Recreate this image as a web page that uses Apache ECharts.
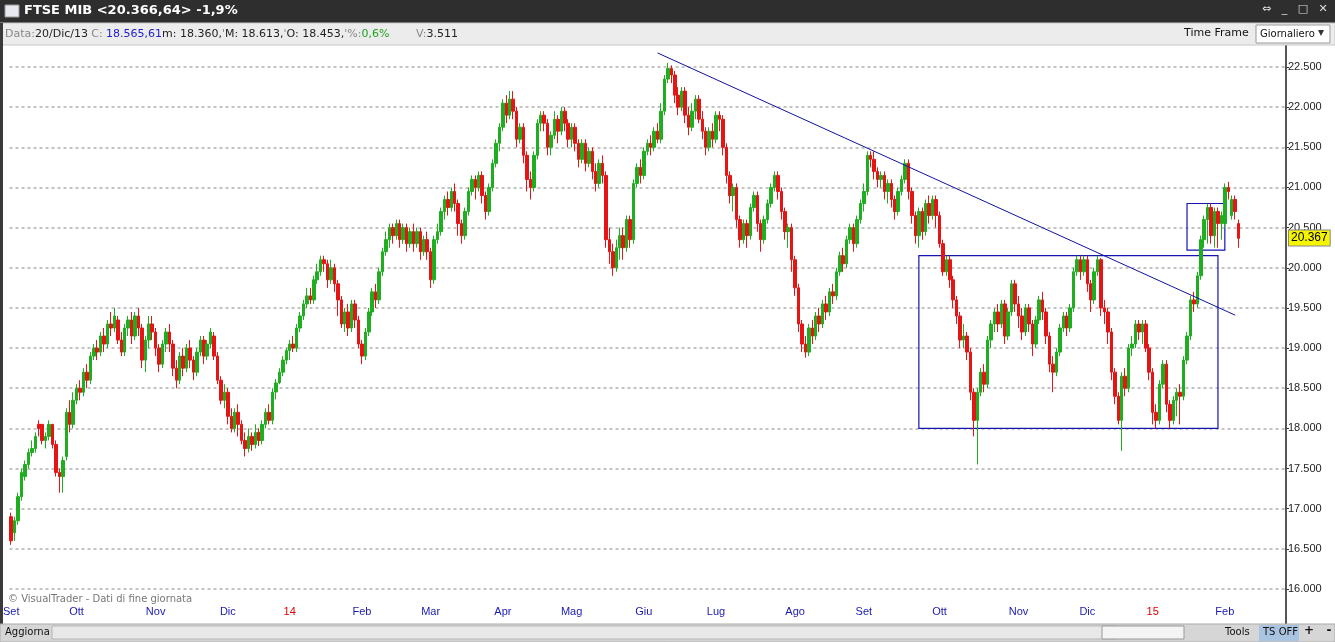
<!DOCTYPE html>
<html><head><meta charset="utf-8">
<script src="https://cdn.jsdelivr.net/npm/echarts@6/dist/echarts.min.js"></script>
<style>html,body{margin:0;padding:0;background:#fff}#c{width:1335px;height:642px}</style>
</head><body><div id="c"></div>
<script>
const monthLabels=['Set','Ott','Nov','Dic','14','Feb','Mar','Apr','Mag','Giu','Lug','Ago','Set','Ott','Nov','Dic','15','Feb'];
const monthDays=[19,23,21,18,21,20,21,20,21,21,23,20,22,23,20,19,21,5];
const yearLabels=['14','15'];
// [open, close, low, high] in thousands of points
const ohlc=[
[16.90,16.60,16.55,16.95],[16.70,16.85,16.60,16.90],[16.85,17.15,16.80,17.20],[17.15,17.45,17.10,17.50],[17.40,17.55,17.35,17.60],[17.55,17.70,17.50,17.75],[17.70,17.75,17.65,17.85],[17.75,17.90,17.70,17.95],[18.05,18.00,17.90,18.10],[18.05,17.85,17.80,18.05],[17.85,17.90,17.75,17.95],[17.90,18.05,17.85,18.10],[18.05,17.80,17.75,18.05],[17.80,17.45,17.40,17.85],[17.45,17.40,17.20,17.50],[17.40,17.60,17.20,17.65],[17.65,18.20,17.60,18.25],[18.20,18.05,17.95,18.35],[18.05,18.35,18.00,18.45],
[18.35,18.50,18.30,18.55],[18.50,18.45,18.35,18.60],[18.45,18.70,18.40,18.75],[18.70,18.60,18.50,18.80],[18.60,18.90,18.55,18.95],[18.90,19.00,18.85,19.05],[19.00,18.95,18.85,19.10],[18.95,19.15,18.90,19.20],[19.15,19.05,18.95,19.25],[19.05,19.30,19.00,19.35],[19.30,19.25,19.15,19.45],[19.25,19.40,19.20,19.50],[19.35,19.10,19.05,19.40],[19.10,18.95,18.90,19.20],[18.95,19.25,18.90,19.30],[19.25,19.35,19.15,19.40],[19.35,19.15,19.05,19.45],[19.15,19.40,19.10,19.45],[19.40,19.25,19.15,19.50],[19.25,18.85,18.75,19.30],[18.85,19.10,18.70,19.15],[19.10,19.30,19.00,19.40],[19.30,19.20,19.10,19.40],
[19.20,19.00,18.90,19.25],[19.00,18.80,18.70,19.05],[18.80,19.05,18.75,19.10],[19.05,19.20,18.95,19.25],[19.20,19.05,18.95,19.30],[19.05,18.75,18.65,19.10],[18.75,18.60,18.50,18.85],[18.60,18.90,18.55,18.95],[18.90,18.75,18.65,19.00],[18.75,19.00,18.70,19.05],[19.00,18.85,18.75,19.10],[18.85,18.70,18.60,18.90],[18.70,18.95,18.65,19.00],[18.95,19.10,18.90,19.15],[19.10,18.90,18.80,19.15],[18.90,19.05,18.85,19.10],[19.05,19.20,19.00,19.25],[19.15,18.90,18.85,19.20],[18.90,18.60,18.55,18.95],[18.60,18.35,18.30,18.65],[18.35,18.45,18.25,18.55],
[18.45,18.15,18.05,18.50],[18.15,18.00,17.95,18.25],[18.00,18.20,17.95,18.25],[18.20,18.05,17.90,18.30],[18.05,17.85,17.80,18.10],[17.85,17.75,17.65,17.95],[17.75,17.90,17.70,18.00],[17.90,17.80,17.72,17.95],[17.80,17.95,17.75,18.05],[17.95,17.85,17.78,18.00],[17.85,18.05,17.80,18.10],[18.05,18.20,18.00,18.25],[18.20,18.10,18.05,18.30],[18.10,18.45,18.05,18.50],[18.453,18.566,18.36,18.613],[18.57,18.70,18.55,18.75],[18.70,18.85,18.65,18.90],[18.85,18.97,18.80,19.00],
[18.97,19.05,18.85,19.10],[19.05,19.00,18.95,19.15],[19.00,19.25,18.95,19.30],[19.25,19.40,19.20,19.45],[19.40,19.55,19.35,19.60],[19.55,19.65,19.50,19.75],[19.65,19.60,19.55,19.75],[19.60,19.85,19.55,19.90],[19.85,19.95,19.80,20.05],[19.95,20.10,19.90,20.15],[20.10,20.05,19.95,20.15],[20.05,19.85,19.75,20.10],[19.85,20.00,19.80,20.10],[20.00,19.80,19.70,20.05],[19.80,19.60,19.40,19.85],[19.60,19.30,19.25,19.65],[19.30,19.45,19.20,19.50],[19.45,19.25,19.15,19.55],[19.25,19.55,19.20,19.60],[19.55,19.35,19.25,19.60],[19.35,19.05,19.00,19.40],
[19.05,18.90,18.80,19.10],[18.90,19.20,18.85,19.25],[19.20,19.45,19.15,19.50],[19.45,19.70,19.40,19.75],[19.70,19.60,19.50,19.80],[19.60,19.95,19.55,20.00],[19.95,20.20,19.90,20.25],[20.20,20.35,20.15,20.45],[20.35,20.50,20.25,20.55],[20.50,20.40,20.30,20.55],[20.40,20.55,20.35,20.60],[20.55,20.35,20.25,20.60],[20.35,20.50,20.30,20.55],[20.50,20.30,20.20,20.55],[20.30,20.45,20.25,20.50],[20.45,20.30,20.20,20.55],[20.30,20.45,20.25,20.50],[20.45,20.20,20.10,20.50],[20.20,20.35,20.15,20.40],[20.35,20.20,20.10,20.45],
[20.20,19.85,19.75,20.25],[19.85,20.35,19.80,20.40],[20.35,20.45,20.30,20.55],[20.45,20.70,20.40,20.75],[20.70,20.85,20.60,20.90],[20.85,20.75,20.65,20.95],[20.75,20.95,20.70,21.00],[20.95,20.80,20.70,21.05],[20.80,20.55,20.40,20.85],[20.55,20.40,20.30,20.60],[20.40,20.70,20.35,20.75],[20.70,20.95,20.65,21.00],[20.95,21.10,20.90,21.15],[21.10,21.00,20.85,21.15],[21.00,21.15,20.95,21.20],[21.15,20.90,20.80,21.20],[20.90,20.70,20.60,20.95],[20.70,21.00,20.65,21.05],[21.00,21.30,20.95,21.35],[21.30,21.55,21.25,21.60],[21.55,21.75,21.45,21.80],
[21.75,22.05,21.70,22.10],[22.05,21.90,21.80,22.15],[21.90,22.10,21.85,22.20],[22.10,21.95,21.85,22.20],[21.95,21.60,21.50,22.00],[21.60,21.75,21.55,21.80],[21.75,21.40,21.30,21.80],[21.40,21.10,20.95,21.45],[21.10,21.00,20.85,21.20],[21.00,21.40,20.95,21.45],[21.40,21.80,21.35,21.85],[21.80,21.90,21.70,21.95],[21.90,21.80,21.70,21.95],[21.80,21.50,21.40,21.85],[21.50,21.65,21.40,21.70],[21.65,21.85,21.60,21.95],[21.85,21.70,21.55,21.90],[21.70,21.95,21.65,22.00],[21.95,21.80,21.70,22.00],[21.80,21.60,21.50,21.85],
[21.60,21.75,21.50,21.80],[21.75,21.55,21.45,21.80],[21.55,21.35,21.25,21.60],[21.35,21.55,21.30,21.60],[21.55,21.30,21.20,21.60],[21.30,21.45,21.25,21.50],[21.45,21.20,21.10,21.50],[21.20,21.05,20.95,21.30],[21.05,21.30,21.00,21.35],[21.30,21.15,21.05,21.40],[21.15,20.35,20.25,21.20],[20.35,20.20,20.05,20.50],[20.20,20.00,19.90,20.30],[20.00,20.25,19.95,20.35],[20.25,20.40,20.10,20.50],[20.40,20.25,20.10,20.50],[20.25,20.60,20.20,20.65],[20.60,20.35,20.25,20.65],[20.35,21.05,20.30,21.10],[21.05,21.25,21.00,21.30],[21.25,21.15,21.05,21.35],
[21.15,21.45,21.10,21.50],[21.45,21.55,21.40,21.60],[21.55,21.50,21.40,21.65],[21.50,21.70,21.45,21.75],[21.70,21.60,21.55,21.80],[21.60,21.95,21.55,22.05],[21.95,22.35,21.90,22.40],[22.35,22.48,22.30,22.55],[22.48,22.40,22.30,22.52],[22.40,22.15,22.05,22.45],[22.15,22.00,21.90,22.25],[22.00,22.20,21.95,22.25],[22.20,21.90,21.80,22.25],[21.90,21.75,21.65,22.00],[21.75,21.95,21.70,22.05],[21.95,22.10,21.85,22.15],[22.10,21.85,21.80,22.15],[21.85,21.70,21.60,21.95],[21.70,21.50,21.40,21.75],[21.50,21.70,21.45,21.75],[21.70,21.60,21.50,21.80],
[21.60,21.90,21.55,21.95],[21.90,21.85,21.70,21.95],[21.85,21.50,21.40,21.90],[21.50,21.15,21.05,21.55],[21.15,20.90,20.80,21.20],[20.90,21.00,20.70,21.05],[21.00,20.60,20.50,21.05],[20.60,20.35,20.25,20.65],[20.35,20.55,20.30,20.60],[20.55,20.40,20.25,20.60],[20.40,20.75,20.35,20.80],[20.75,20.90,20.70,20.95],[20.90,20.55,20.45,20.95],[20.55,20.35,20.20,20.60],[20.35,20.60,20.30,20.65],[20.60,20.80,20.55,20.85],[20.80,21.00,20.75,21.05],[21.00,21.15,20.95,21.20],[21.15,20.95,20.85,21.20],[20.95,20.70,20.60,21.00],[20.70,20.45,20.35,20.75],[20.45,20.50,20.25,20.55],[20.50,20.10,19.95,20.55],
[20.10,19.75,19.65,20.15],[19.75,19.30,19.20,19.80],[19.30,19.05,18.95,19.35],[19.05,18.95,18.88,19.15],[18.95,19.25,18.90,19.30],[19.25,19.15,19.05,19.35],[19.15,19.40,19.10,19.45],[19.40,19.30,19.20,19.50],[19.30,19.55,19.25,19.60],[19.55,19.45,19.35,19.65],[19.45,19.70,19.40,19.75],[19.70,19.65,19.55,19.80],[19.65,19.95,19.60,20.00],[19.95,20.15,19.90,20.20],[20.15,20.05,19.95,20.25],[20.05,20.35,20.00,20.40],[20.35,20.50,20.30,20.55],[20.50,20.30,20.20,20.55],[20.30,20.60,20.25,20.65],[20.60,20.80,20.55,20.85],
[20.80,20.95,20.70,21.05],[20.95,21.40,20.90,21.45],[21.40,21.35,21.25,21.45],[21.35,21.20,21.10,21.45],[21.20,21.10,21.00,21.25],[21.10,21.15,21.00,21.20],[21.15,20.95,20.85,21.20],[20.95,21.05,20.80,21.10],[21.05,20.85,20.75,21.10],[20.85,20.70,20.60,20.90],[20.70,20.95,20.65,21.00],[20.95,21.10,20.90,21.15],[21.10,21.30,21.05,21.35],[21.30,20.95,20.85,21.35],[20.95,20.65,20.55,21.00],[20.65,20.40,20.30,20.70],[20.40,20.70,20.25,20.75],[20.70,20.45,20.35,20.75],[20.45,20.80,20.40,20.85],[20.80,20.65,20.55,20.90],[20.65,20.85,20.60,20.90],[20.85,20.65,20.50,20.90],
[20.65,20.30,20.25,20.70],[20.30,19.95,19.90,20.35],[19.95,20.10,19.90,20.15],[20.10,19.85,19.75,20.15],[19.85,19.60,19.50,19.90],[19.60,19.40,19.30,19.65],[19.40,19.10,19.00,19.45],[19.10,19.15,19.00,19.30],[19.15,18.95,18.85,19.20],[18.95,18.45,18.35,19.00],[18.45,18.10,17.90,18.50],[18.10,18.45,17.55,18.50],[18.45,18.70,18.40,18.75],[18.70,18.55,18.45,18.80],[18.55,19.10,18.50,19.15],[19.10,19.30,19.00,19.35],[19.30,19.45,19.20,19.50],[19.45,19.30,19.20,19.55],[19.30,19.55,19.25,19.60],[19.55,19.15,19.05,19.60],[19.15,19.45,19.10,19.50],[19.45,19.80,19.40,19.85],[19.80,19.55,19.45,19.85],
[19.55,19.40,19.25,19.65],[19.40,19.20,19.10,19.50],[19.20,19.50,19.15,19.55],[19.50,19.30,19.20,19.55],[19.30,19.05,18.90,19.35],[19.05,19.35,19.00,19.40],[19.35,19.60,19.30,19.65],[19.60,19.45,19.35,19.70],[19.45,19.15,19.05,19.50],[19.15,18.80,18.70,19.20],[18.80,18.70,18.45,18.90],[18.70,18.95,18.65,19.00],[18.95,19.25,18.90,19.30],[19.25,19.40,19.20,19.45],[19.40,19.25,19.15,19.45],[19.25,19.50,19.20,19.55],[19.50,19.95,19.45,20.00],[19.95,20.10,19.90,20.15],[20.10,19.95,19.85,20.15],[19.95,20.10,19.90,20.15],
[20.10,19.80,19.70,20.15],[19.80,19.60,19.45,19.85],[19.60,19.95,19.55,20.00],[19.95,20.10,19.90,20.15],[20.10,19.50,19.40,20.12],[19.50,19.45,19.30,19.60],[19.45,19.20,19.05,19.50],[19.20,18.70,18.60,19.25],[18.70,18.40,18.30,18.75],[18.40,18.10,18.05,18.45],[18.10,18.65,17.72,18.70],[18.65,18.50,18.40,18.75],[18.50,19.00,18.45,19.05],[19.00,19.05,18.90,19.15],[19.05,19.30,19.00,19.35],[19.30,19.20,19.10,19.35],[19.20,19.30,19.05,19.35],[19.30,19.00,18.95,19.35],[19.00,18.70,18.60,19.05],
[18.70,18.20,18.05,18.75],[18.20,18.10,18.00,18.30],[18.10,18.55,18.05,18.60],[18.55,18.80,18.50,18.85],[18.80,18.30,18.20,18.85],[18.30,18.10,18.00,18.35],[18.10,18.35,18.05,18.40],[18.35,18.45,18.15,18.50],[18.45,18.40,18.05,18.55],[18.40,18.85,18.35,18.90],[18.85,19.15,18.80,19.20],[19.15,19.60,19.10,19.65],[19.60,19.55,19.45,19.70],[19.55,19.90,19.50,19.95],[19.90,20.35,19.85,20.40],[20.35,20.60,20.25,20.65],[20.60,20.75,20.30,20.80],[20.75,20.40,20.30,20.80],[20.40,20.70,20.25,20.75],[20.70,20.55,20.25,20.75],[20.55,20.65,20.35,20.70],
[20.55,21.00,20.50,21.05],[21.00,20.95,20.85,21.07],[20.65,20.85,20.60,20.90],[20.85,20.70,20.60,20.90],[20.55,20.367,20.25,20.60]
];
const padDays=13;
const trendLine=[[188,22.675],[356,19.41]];
const boxes=[[[264,20.15],[351,18.0]],[[342,20.8],[353,20.22]]];

const cats=[];
monthDays.forEach((n,m)=>{for(let i=0;i<n;i++)cats.push(i===0?monthLabels[m]:'');});
for(let i=0;i<padDays;i++)cats.push('');
const lastClose=ohlc[ohlc.length-1][1];
const fmt=v=>v.toFixed(3);

const chart=echarts.init(document.getElementById('c'));
chart.setOption({
 animation:false,
 grid:{left:3,right:50,top:26.85,bottom:12.85},
 xAxis:{type:'category',data:cats,offset:-26,
  axisLine:{show:false},
  axisTick:{interval:(i,v)=>v!=='',length:5,lineStyle:{color:'#2020c0'}},
  axisLabel:{interval:(i,v)=>v!=='',margin:3,fontSize:11,fontFamily:'Liberation Sans',
    color:(v)=>yearLabels.includes(v)?'#e00000':'#1a1ab0'},
  splitLine:{show:false}},
 yAxis:{type:'value',position:'right',min:15.5,max:23,interval:0.5,scale:true,
  axisLine:{show:true,lineStyle:{color:'#555'}},
  axisTick:{show:true,length:4,lineStyle:{color:'#333'}},
  axisLabel:{margin:3,fontSize:11,fontFamily:'Liberation Sans',color:'#222',
    formatter:v=>(v<16||v>22.5)?'':fmt(v)},
  splitLine:{lineStyle:{color:'#b0b0b0',type:[3,3],width:1.5}}},
 series:[{type:'candlestick',data:ohlc,barWidth:3,
  itemStyle:{color:'#1fae1f',color0:'#e51515',borderColor:'#1fae1f',borderColor0:'#e51515',borderWidth:1},
  markLine:{symbol:'none',silent:true,animation:false,data:[
    [{coord:trendLine[0],lineStyle:{color:'#1010a0',width:1,type:'solid'},label:{show:false}},{coord:trendLine[1]}],
    {yAxis:lastClose,lineStyle:{color:'rgba(0,0,0,0)',width:0},label:{show:true,position:'end',distance:4,formatter:()=>fmt(lastClose),
      backgroundColor:'#f5f500',borderColor:'#888',borderWidth:1,padding:[2,2,1,2],color:'#000',fontSize:12,fontFamily:'Liberation Sans'}}
  ]},
  markArea:{silent:true,itemStyle:{color:'rgba(0,0,0,0)',borderColor:'#1515b0',borderWidth:1.2},data:boxes.map(b=>[{coord:b[0]},{coord:b[1]}])}
 }],
 graphic:[
  {type:'rect',z:100,shape:{x:0,y:0,width:1335,height:23},style:{fill:'#2e2e2e'}},
  {type:'rect',z:101,shape:{x:5,y:5,width:14,height:12},style:{fill:'#e8e8f0',stroke:'#999'}},
  {type:'text',z:101,left:24,top:4,style:{text:'FTSE MIB <20.366,64> -1,9%',fill:'#fff',font:'bold 13px "DejaVu Sans"'}},
  {type:'text',z:101,left:1262,top:4,style:{text:'⇔   _   □   ✕',fill:'#ddd',font:'11px "DejaVu Sans"'}},
  {type:'rect',z:100,shape:{x:0,y:23,width:1335,height:22},style:{fill:'#ececec',stroke:'#c8c8c8'}},
  {type:'text',z:101,left:5,top:28,style:{text:'{g|Data:}{k|20/Dic/13} {g|C:} {b|18.565,61}{k|m: 18.360,}{g|\'}{k|M: 18.613,}{g|\'}{k|O: 18.453,}{g|\'%:}{gr|0,6%}        {g|V:}{k|3.511}',
    rich:{g:{fill:'#888',font:'11px "DejaVu Sans"'},k:{fill:'#222',font:'11px "DejaVu Sans"'},b:{fill:'#2222cc',font:'11px "DejaVu Sans"'},gr:{fill:'#20a020',font:'11px "DejaVu Sans"'}}}},
  {type:'text',z:101,left:1184,top:28,style:{text:'Time Frame',fill:'#111',font:'11px "DejaVu Sans"'}},
  {type:'rect',z:101,shape:{x:1256,y:25,width:74,height:18},style:{fill:'#fff',stroke:'#999'}},
  {type:'text',z:102,left:1260,top:29,style:{text:'Giornaliero',fill:'#111',font:'10px "DejaVu Sans"'}},
  {type:'text',z:102,left:1318,top:27,style:{text:'▾',fill:'#333',font:'12px "DejaVu Sans"'}},
  {type:'rect',z:100,shape:{x:0,y:23,width:3,height:619},style:{fill:'#3a3a3a'}},
  {type:'text',z:101,left:8,top:594,style:{text:'© VisualTrader - Dati di fine giornata',fill:'#777',font:'10px "DejaVu Sans"'}},
  {type:'rect',z:100,shape:{x:0,y:624,width:1335,height:18},style:{fill:'#d6d6d6',stroke:'#aaa'}},
  {type:'text',z:101,left:5,top:627,style:{text:'Aggiorna',fill:'#111',font:'10px "DejaVu Sans"'}},
  {type:'rect',z:101,shape:{x:52,y:626,width:1065,height:13},style:{fill:'#e8e8e8',stroke:'#b5b5b5'}},
  {type:'rect',z:102,shape:{x:1102,y:626,width:82,height:13},style:{fill:'#f4f4f4',stroke:'#999'}},
  {type:'text',z:101,left:1225,top:627,style:{text:'Tools',fill:'#111',font:'10px "DejaVu Sans"'}},
  {type:'rect',z:101,shape:{x:1259,y:625,width:40,height:16},style:{fill:'#a8c4e0'}},
  {type:'text',z:102,left:1263,top:627,style:{text:'TS OFF',fill:'#111',font:'10px "DejaVu Sans"'}},
  {type:'text',z:101,left:1304,top:625,style:{text:'+   -',fill:'#111',font:'bold 12px "DejaVu Sans"'}},
  {type:'rect',z:99,shape:{x:1286,y:45,width:1,height:579},style:{fill:'#555'}}
 ]
});
</script></body></html>
